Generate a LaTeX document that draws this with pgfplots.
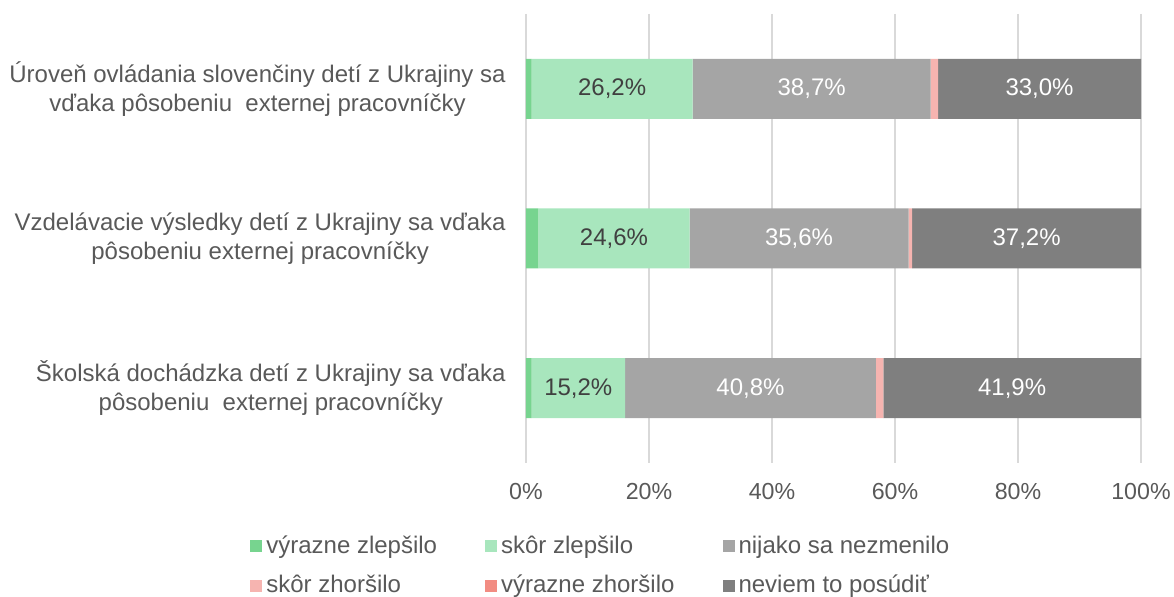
\documentclass[border=0pt]{standalone}
\usepackage{pgfplots}
\pgfplotsset{compat=1.18}
\usepackage{fontspec}
\setmainfont{Liberation Sans}
\definecolor{txt}{HTML}{595959}
\definecolor{lbl}{HTML}{404040}
\definecolor{gridc}{HTML}{D9D9D9}
\definecolor{cvz}{HTML}{77D48F}
\definecolor{csz}{HTML}{A8E6BD}
\definecolor{cnij}{HTML}{A5A5A5}
\definecolor{cskz}{HTML}{F6B4B0}
\definecolor{cvzh}{HTML}{F28C82}
\definecolor{cnev}{HTML}{7F7F7F}
\begin{document}
\fontsize{12}{14.5}\selectfont
\begin{tikzpicture}
\useasboundingbox (0,0) rectangle (587pt,298.5pt);
\begin{axis}[
  at={(263pt,67pt)}, anchor=south west,
  scale only axis, width=307.5pt, height=224.5pt,
  xbar stacked, bar width=30pt,
  xmin=0, xmax=100, ymin=-0.5, ymax=2.5, y dir=reverse,
  xtick={0,20,...,100}, xticklabels={0\%,20\%,40\%,60\%,80\%,100\%},
  ytick={0,1,2},
  yticklabels={{Úroveň ovládania slovenčiny detí z Ukrajiny sa\\vďaka pôsobeniu\ \ externej pracovníčky},
               {Vzdelávacie výsledky detí z Ukrajiny sa vďaka\\pôsobeniu externej pracovníčky},
               {Školská dochádzka detí z Ukrajiny sa vďaka\\pôsobeniu\ \ externej pracovníčky}},
  axis line style={draw=none},
  xmajorgrids, grid style={draw=gridc, line width=1pt},
  major tick length=0pt,
  tick label style={text=txt},
  yticklabel style={align=center, inner sep=0pt, xshift=-10pt},
  xticklabel style={yshift=-6pt, font=\fontsize{11.6}{14}\selectfont},
  legend columns=3,
  legend cell align=left,
  legend image code/.code={\fill[#1] (0pt,-3pt) rectangle (6pt,3pt);},
  legend style={draw=none, fill=none, at={(-0.4488,-0.152)}, anchor=north west,
    inner sep=0pt, row sep=5pt, text=txt,
    /tikz/every even column/.append style={column sep=22pt}},
]
\addplot[fill=cvz, draw=none] coordinates {(0.9,0) (2.0,1) (0.9,2)};
\addlegendentry{výrazne zlepšilo}
\addplot[fill=csz, draw=none] coordinates {(26.2,0) (24.6,1) (15.2,2)};
\addlegendentry{skôr zlepšilo}
\addplot[fill=cnij, draw=none] coordinates {(38.7,0) (35.6,1) (40.8,2)};
\addlegendentry{nijako sa nezmenilo}
\addplot[fill=cskz, draw=none] coordinates {(1.2,0) (0.6,1) (1.2,2)};
\addlegendentry{skôr zhoršilo}
\addplot[fill=cvzh, draw=none] coordinates {(0,0) (0,1) (0,2)};
\addlegendentry{výrazne zhoršilo}
\addplot[fill=cnev, draw=none] coordinates {(33.0,0) (37.2,1) (41.9,2)};
\addlegendentry{neviem to posúdiť}
\end{axis}
\begin{axis}[
  at={(263pt,67pt)}, anchor=south west,
  scale only axis, width=307.5pt, height=224.5pt,
  xmin=0, xmax=100, ymin=-0.5, ymax=2.5, y dir=reverse,
  hide axis, clip=false,
]
\addplot[draw=none, mark=none, nodes near coords, point meta=explicit symbolic,
  every node near coord/.append style={anchor=center, text=lbl}]
  coordinates {(14.0,0) [26,2\%] (14.3,1) [24,6\%] (8.5,2) [15,2\%]};
\addplot[draw=none, mark=none, nodes near coords, point meta=explicit symbolic,
  every node near coord/.append style={anchor=center, text=white}]
  coordinates {(46.45,0) [38,7\%] (44.4,1) [35,6\%] (36.5,2) [40,8\%]
               (83.5,0) [33,0\%] (81.4,1) [37,2\%] (79.05,2) [41,9\%]};
\end{axis}
\end{tikzpicture}
\end{document}
